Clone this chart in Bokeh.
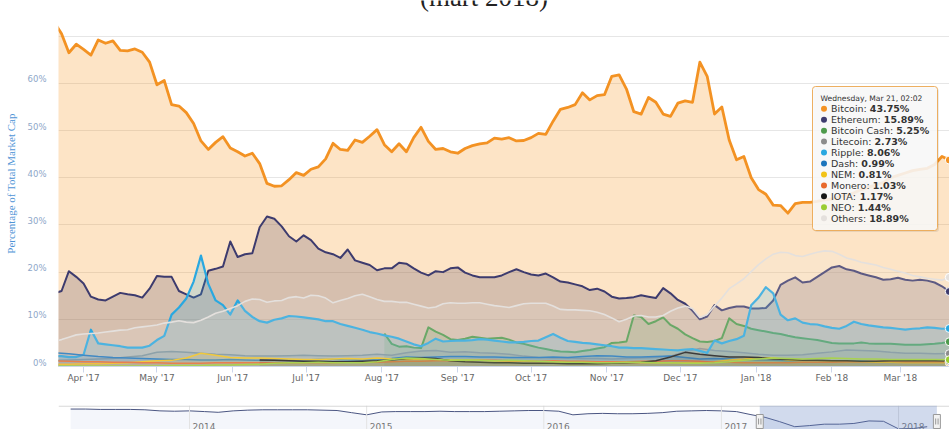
import pandas as pd
from bokeh.plotting import figure
from bokeh.layouts import column
from bokeh.models import (Range1d, MonthsTicker, DatetimeTickFormatter, FixedTicker, LinearAxis, Grid,
                          PrintfTickFormatter, Label, BoxAnnotation, Span, ColumnDataSource)
from bokeh.core.properties import value
from bokeh.embed import file_html
from bokeh.resources import INLINE

# ---------------- data ----------------
MAIN_START = "2017-03-20"   # 3-day sampling for the large series
MINOR_START = "2017-03-20"  # 6-day sampling for the small series

bitcoin = [73.0, 70.5, 66.5, 68.3, 67.2, 66.0, 69.2, 68.5, 69.0, 67.0,
           66.9, 67.3, 66.6, 64.5, 59.7, 60.6, 55.5, 55.2, 53.8, 51.5,
           47.8, 46.0, 47.5, 48.7, 46.3, 45.5, 44.6, 45.2, 43.0, 38.8,
           38.2, 38.3, 39.6, 41.1, 40.5, 41.8, 42.3, 44.0, 47.3, 46.0,
           45.8, 48.0, 47.5, 48.8, 50.2, 47.0, 45.5, 47.2, 45.5, 48.5,
           50.7, 47.7, 46.0, 46.2, 45.5, 45.2, 46.2, 46.8, 47.2, 47.4,
           48.4, 48.2, 48.5, 47.8, 47.9, 48.5, 49.4, 49.2, 52.0, 54.5,
           54.9, 55.5, 58.0, 56.5, 57.4, 57.6, 61.5, 61.8, 58.8, 54.0,
           53.5, 57.0, 56.0, 53.5, 53.0, 55.8, 56.3, 56.0, 64.5, 61.5,
           53.5, 55.0, 48.0, 43.8, 44.5, 40.0, 37.5, 36.5, 34.2, 34.1,
           32.5, 34.5, 34.8, 34.8, 35.0, 35.3, 35.5, 36.0, 36.3, 36.8,
           37.5, 38.0, 38.5, 39.0, 40.0, 40.5, 41.0, 41.5, 41.8, 42.0,
           42.8, 44.5, 43.75]

ethereum = [15.5, 16.0, 20.2, 19.0, 17.6, 14.8, 14.2, 14.0, 14.8, 15.6,
            15.3, 15.1, 14.6, 16.5, 19.2, 19.0, 19.0, 16.0, 15.3, 14.6,
            15.3, 20.3, 20.7, 21.2, 26.5, 23.2, 23.8, 24.0, 29.5, 31.8,
            31.3, 29.7, 27.6, 26.5, 27.8, 26.8, 25.0, 24.2, 23.8, 23.0,
            24.8, 22.5, 22.0, 21.5, 20.4, 20.8, 20.8, 22.0, 21.8, 20.8,
            19.9, 19.3, 20.2, 20.0, 20.8, 21.0, 19.9, 19.3, 18.9, 18.9,
            18.9, 19.3, 20.0, 20.6, 20.0, 19.5, 19.3, 19.7, 18.9, 18.0,
            17.8, 17.4, 17.0, 16.2, 16.5, 15.9, 14.8, 14.4, 14.5, 14.7,
            15.1, 14.8, 14.5, 16.6, 15.5, 14.1, 13.3, 11.8, 10.0, 10.6,
            13.0, 11.9, 12.4, 12.7, 12.7, 12.3, 12.3, 12.4, 14.0, 17.3,
            18.2, 18.9, 17.8, 18.0, 19.0, 20.0, 21.0, 21.3, 20.6, 20.3,
            19.7, 19.3, 18.9, 18.4, 18.5, 18.8, 18.4, 18.2, 18.4, 18.2,
            17.8, 17.0, 15.89]

ripple = [2.2, 2.2, 2.0, 2.0, 2.5, 7.8, 4.9, 4.7, 4.5, 4.3,
          4.0, 4.0, 4.0, 4.4, 5.6, 6.5, 11.0, 12.5, 14.4, 18.0,
          23.5, 17.5, 14.0, 13.0, 11.0, 14.0, 11.8, 10.5, 9.6, 9.3,
          9.9, 10.2, 10.7, 10.6, 10.4, 10.2, 10.0, 9.6, 9.6, 9.0,
          8.6, 8.2, 7.8, 7.3, 7.0, 6.6, 6.3, 5.9, 5.3, 4.7,
          4.3, 5.0, 5.9, 5.3, 5.4, 5.5, 5.5, 5.6, 5.8, 5.7,
          5.5, 5.3, 5.1, 5.1, 5.2, 5.4, 5.5, 6.2, 6.9, 6.1,
          5.4, 5.2, 5.0, 4.9, 4.7, 4.5, 4.3, 4.0, 4.0, 3.9,
          3.9, 3.8, 3.7, 3.6, 3.5, 3.4, 3.6, 3.7, 3.3, 2.9,
          5.5, 4.9, 5.4, 5.8, 6.5, 13.0, 14.6, 16.8, 15.5, 11.0,
          9.8, 10.2, 9.3, 9.0, 8.9, 8.5, 8.2, 8.0, 8.6, 9.5,
          9.0, 8.7, 8.5, 8.3, 8.2, 8.0, 7.8, 8.0, 8.1, 8.3,
          8.2, 8.0, 8.06]

others = [5.3, 5.7, 6.2, 6.7, 6.9, 7.0, 7.1, 7.3, 7.5, 7.7,
          7.8, 8.2, 8.4, 8.6, 8.8, 9.2, 9.4, 9.7, 9.4, 9.3,
          9.8, 10.5, 11.3, 11.7, 12.3, 12.9, 13.8, 14.3, 14.2, 13.6,
          13.9, 14.0, 14.6, 14.8, 14.5, 15.1, 15.0, 14.5, 13.5, 14.0,
          14.4, 15.0, 15.3, 14.8, 14.2, 13.8, 13.8, 13.6, 13.6, 13.2,
          12.8, 12.4, 12.6, 13.3, 13.5, 13.4, 13.4, 13.5, 13.5, 13.2,
          12.9, 12.7, 12.5, 12.9, 13.3, 13.4, 13.4, 13.4, 12.8, 12.1,
          12.0, 12.0, 11.9, 11.8, 11.5, 11.0, 10.3, 9.5, 10.0, 10.7,
          10.8, 10.5, 10.5, 10.8, 11.7, 12.4, 12.8, 12.3, 10.4, 11.0,
          12.8, 14.5, 16.5, 17.5, 18.6, 20.1, 21.6, 22.8, 23.8, 24.2,
          24.1, 23.5, 23.3, 23.8, 24.2, 24.5, 24.4, 23.8, 23.0, 22.6,
          22.1, 21.8, 21.5, 21.0, 20.6, 20.2, 19.8, 19.3, 19.0, 18.7,
          18.5, 18.3, 18.89]

bitcoin_cash = [None] * 45 + [
          7.0, 4.8, 4.2, 4.3, 4.0,
          3.9, 8.3, 7.4, 6.7, 5.8, 5.6, 5.9, 6.3, 6.1, 5.9,
          6.0, 6.1, 5.7, 5.1, 4.8, 4.4, 4.0, 3.7, 3.4, 3.2,
          3.1, 3.0, 3.3, 3.5, 3.8, 4.1, 5.0, 5.1, 5.3, 10.8,
          10.5, 9.0, 9.6, 10.4, 8.8, 8.0, 6.8, 6.0, 5.3, 5.2,
          5.4, 6.0, 10.2, 9.0, 8.6, 8.0, 7.7, 7.4, 7.1, 6.9,
          6.5, 6.2, 6.0, 5.8, 5.6, 5.3, 5.0, 4.9, 4.9, 4.9,
          5.1, 4.9, 4.8, 4.8, 4.8, 4.7, 4.6, 4.6, 4.6, 4.7,
          4.8, 5.0, 5.25]

litecoin = [1.3, 1.4, 1.5, 1.6, 1.7, 2.0, 2.3, 3.0, 3.2, 3.0,
            2.8, 2.6, 2.5, 2.3, 2.2, 2.2, 2.3, 2.4, 2.3, 2.2,
            2.3, 2.4, 2.6, 2.4, 2.9, 3.3, 3.4, 3.0, 3.1, 2.9,
            2.8, 2.6, 2.2, 1.9, 1.8, 1.8, 1.7, 1.7, 1.6, 1.7,
            1.8, 1.9, 2.2, 3.2, 3.8, 3.4, 3.2, 2.9, 2.6, 2.4,
            2.4, 2.5, 2.8, 3.1, 3.5, 3.4, 3.3, 3.0, 2.8, 2.8,
            2.7, 2.73]

dash = [2.9, 2.7, 2.4, 2.1, 1.9, 1.8, 1.7, 1.6, 1.5, 1.5,
        1.4, 1.4, 1.5, 1.4, 1.3, 1.3, 1.3, 1.4, 1.5, 1.5,
        1.4, 1.4, 1.5, 1.7, 2.0, 1.9, 2.0, 2.1, 2.1, 2.0,
        2.0, 1.9, 1.9, 1.9, 2.0, 1.9, 2.1, 2.3, 2.2, 2.0,
        2.0, 2.1, 2.2, 1.9, 1.6, 1.7, 1.6, 1.5, 1.4, 1.3,
        1.2, 1.2, 1.1, 1.1, 1.1, 1.1, 1.0, 1.0, 1.0, 1.0,
        1.0, 0.99]

nem = [0.5, 0.5, 0.6, 0.6, 0.7, 0.8, 1.0, 1.2, 1.3, 1.8,
       2.8, 2.4, 1.9, 1.8, 1.8, 1.7, 1.6, 1.5, 1.5, 1.6,
       1.7, 1.6, 1.8, 1.6, 1.5, 1.5, 1.4, 1.4, 1.3, 1.3,
       1.2, 1.1, 1.1, 1.0, 1.0, 1.0, 0.9, 0.8, 0.8, 0.8,
       0.8, 0.8, 0.8, 0.8, 0.9, 1.0, 1.4, 1.6, 1.9, 1.8,
       1.4, 1.2, 1.2, 1.1, 1.0, 1.0, 0.9, 0.9, 0.8, 0.8,
       0.8, 0.81]

monero = [1.2, 1.1, 1.0, 1.0, 0.9, 0.9, 0.8, 0.8, 0.7, 0.7,
          0.7, 0.8, 0.8, 0.8, 0.8, 0.8, 0.8, 0.8, 0.8, 0.8,
          0.9, 0.9, 0.9, 1.0, 1.1, 1.1, 1.2, 1.2, 1.2, 1.3,
          1.3, 1.2, 1.2, 1.1, 1.2, 1.1, 1.1, 1.0, 1.0, 1.0,
          1.1, 1.1, 1.2, 1.2, 1.1, 0.9, 0.9, 0.8, 0.8, 0.8,
          0.8, 0.9, 0.9, 0.9, 1.0, 1.0, 1.1, 1.1, 1.0, 1.0,
          1.0, 1.03]

iota = [None] * 14 + [
        1.4, 1.3, 1.2, 1.1, 1.1, 1.0,
        1.0, 1.1, 1.2, 1.4, 1.7, 1.8, 1.7, 1.2, 1.0, 0.9,
        0.8, 0.8, 0.7, 0.7, 0.7, 0.6, 0.6, 0.6, 0.7, 0.8,
        0.9, 1.2, 2.0, 3.0, 2.6, 2.3, 2.0, 2.0, 1.9, 1.6,
        1.5, 1.3, 1.3, 1.2, 1.2, 1.1, 1.1, 1.2, 1.2, 1.2,
        1.2, 1.17]

neo = [0.1, 0.1, 0.1, 0.1, 0.1, 0.1, 0.1, 0.1, 0.2, 0.2,
       0.2, 0.3, 0.3, 0.4, 0.5, 0.7, 0.8, 0.8, 0.9, 0.8,
       0.8, 0.8, 1.0, 1.5, 1.8, 1.7, 1.5, 1.3, 1.4, 1.3,
       1.2, 1.3, 1.2, 1.1, 1.0, 0.9, 0.9, 0.8, 0.8, 0.9,
       0.9, 0.8, 0.8, 0.7, 0.7, 0.8, 1.0, 1.3, 1.6, 1.8,
       1.7, 1.6, 1.7, 1.8, 1.7, 1.6, 1.6, 1.5, 1.5, 1.5,
       1.5, 1.44]

# navigator: monthly Bitcoin dominance, May 2013 .. Mar 2018
nav_start = "2013-05-01"
nav_btc = [90, 90, 89, 89, 89, 88, 85, 84,
           85, 83, 81, 85, 87, 88, 88, 88, 88, 87, 86, 80,
           74, 82, 83, 83, 83, 84, 83, 83, 83, 84, 85, 86,
           86, 84, 74, 77, 78, 77, 77, 78, 80, 84, 85, 86,
           85, 83, 75, 67, 55, 41, 44, 48, 48, 50, 57, 56,
           35, 36, 41]
nav_years = [2014, 2015, 2016, 2017, 2018]

y_label_ticks = [0, 10, 20, 30, 40, 50, 60]
y_grid_ticks = [0, 10, 20, 30, 40, 50, 60, 70]

tooltip_time = "2018-03-21 02:02"

assert len(bitcoin) == len(ethereum) == len(ripple) == len(others) == len(bitcoin_cash) == 123
assert len(litecoin) == len(dash) == len(nem) == len(monero) == len(iota) == len(neo) == 62

main_dates = pd.date_range(MAIN_START, periods=len(bitcoin), freq="3D")
minor_dates = pd.date_range(MINOR_START, periods=len(litecoin), freq="6D")
nav_dates = pd.date_range(nav_start, periods=len(nav_btc), freq="MS")

# name, dates, values, line colour, fill colour, line width, fill alpha
series = [
    ("Bitcoin", main_dates, bitcoin, "#f39223", "#f7931a", 2.8, 0.25),
    ("Ethereum", main_dates, ethereum, "#3d3b6e", "#5a4c66", 2.0, 0.24),
    ("Bitcoin Cash", main_dates, bitcoin_cash, "#4e9a4c", "#4e9a4c", 2.0, 0.18),
    ("Litecoin", minor_dates, litecoin, "#8c8c8c", "#8c8c8c", 1.5, 0.18),
    ("Ripple", main_dates, ripple, "#29a8e0", "#29a8e0", 2.2, 0.2),
    ("Dash", minor_dates, dash, "#1c75bc", "#1c75bc", 1.5, 0.15),
    ("NEM", minor_dates, nem, "#f2c318", "#f2c318", 1.5, 0.15),
    ("Monero", minor_dates, monero, "#e8692c", "#e8692c", 1.5, 0.15),
    ("IOTA", minor_dates, iota, "#151515", "#151515", 1.5, 0.12),
    ("NEO", minor_dates, neo, "#9acd32", "#9acd32", 1.5, 0.15),
    ("Others", main_dates, others, "#e4e0dd", "#ece8e4", 1.6, 0.18),
]

# ---------------- geometry ----------------
W, H_MAIN, H_NAV = 949, 400, 29
FL, FR, FT, FB = 58, 949, 0, 366
PX_PER_PCT = 352 / 74.6
X0 = pd.Timestamp("2017-03-21 18:00")
X1 = pd.Timestamp("2018-03-21 02:02")
Y_END = (FB - FT) / PX_PER_PCT
LABEL_SHIFT = 4 / PX_PER_PCT   # tick labels sit 4px above their grid lines


def ms(ts):
    return pd.Timestamp(ts).value / 1e6


def px_x(px):
    return ms(X0 + (px - FL) / (FR - FL) * (X1 - X0))


def px_y(py):
    return (FB - py) / PX_PER_PCT


p = figure(width=W, height=H_MAIN, x_axis_type="datetime", y_axis_type=None,
           x_range=Range1d(ms(X0), ms(X1)), y_range=Range1d(0, Y_END),
           output_backend="svg", toolbar_location=None,
           min_border_left=FL, min_border_right=0, min_border_top=FT,
           min_border_bottom=H_MAIN - FB)
p.outline_line_color = None
p.background_fill_color = "white"
p.border_fill_color = "white"
p.extra_y_ranges = {"lab": Range1d(-LABEL_SHIFT, Y_END - LABEL_SHIFT)}

p.add_layout(Grid(dimension=1, ticker=FixedTicker(ticks=y_grid_ticks), grid_line_color="#e6e6e6"))

for name, d, v, lc, fc, lw, fa in series:
    df = pd.DataFrame({"x": d, "y": pd.Series(v, dtype="float")}).dropna()
    src = ColumnDataSource(df)
    p.varea(x="x", y1=0, y2="y", source=src, fill_color=fc, fill_alpha=fa)
    p.line(x="x", y="y", source=src, line_color=lc, line_width=lw, line_join="round")

# hover markers at the last point
last_x = [ms(s[1][-1]) for s in series]
last_y = [s[2][-1] for s in series]
p.scatter(x=last_x, y=last_y, size=8, fill_color=[s[3] for s in series],
          line_color="white", line_width=1)

# axes
p.xaxis.ticker = MonthsTicker(months=list(range(12)))
p.xaxis.formatter = DatetimeTickFormatter(months="%b '%y", days="%b '%y")
p.xaxis.major_label_text_font = "DejaVu Sans"
p.xaxis.major_label_text_font_size = "9px"
p.xaxis.major_label_text_color = "#666666"
p.xaxis.axis_line_color = "#ccd6eb"
p.xaxis.major_tick_line_color = "#ccd6eb"
p.xaxis.major_tick_out = 6
p.xaxis.major_tick_in = 0
p.xaxis.minor_tick_line_color = None
p.xaxis.major_label_standoff = 0
p.xgrid.visible = False

yax = LinearAxis(y_range_name="lab", ticker=FixedTicker(ticks=y_label_ticks),
                 formatter=PrintfTickFormatter(format="%d%%"))
yax.major_label_text_font = "DejaVu Sans"
yax.major_label_text_font_size = "8.5px"
yax.major_label_text_color = "#8ea7c9"
yax.axis_line_color = None
yax.major_tick_line_color = None
yax.minor_tick_line_color = None
yax.major_tick_out = 0
yax.major_tick_in = 0
yax.major_label_standoff = 12
yax.axis_label = "Percentage of Total Market Cap"
yax.axis_label_text_font = "Liberation Serif"
yax.axis_label_text_font_size = "11px"
yax.axis_label_text_font_style = "normal"
yax.axis_label_text_color = "#4f94d6"
yax.axis_label_standoff = 8
p.add_layout(yax, "left")

# title (cut by top edge, as in the source)
p.add_layout(Label(x=px_x(483.5), y=px_y(-4.0), text="(mart 2018)",
                   text_font="Liberation Serif", text_font_size="27px",
                   text_align="center", text_baseline="alphabetic",
                   text_color="#222222"))

# tooltip
TL, TR, TT, TB = 812, 937, 86, 230
p.add_layout(BoxAnnotation(left=px_x(TL + 1.5), right=px_x(TR + 1.5), top=px_y(TT + 1.5),
                           bottom=px_y(TB + 1.5), fill_color="#000000", fill_alpha=0.08,
                           line_color=None, border_radius=3))
p.add_layout(BoxAnnotation(left=px_x(TL), right=px_x(TR), top=px_y(TT), bottom=px_y(TB),
                           fill_color="#f9f9f9", fill_alpha=0.88, line_color="#eba650",
                           line_alpha=0.9, line_width=1, border_radius=3))

hdr = pd.Timestamp(tooltip_time).strftime("%A, %b %d, %H:%M")
r = p.text(x=[px_x(820)], y=[px_y(97.5)], text=[hdr], text_font=value("DejaVu Sans"),
           text_font_size="7.6px", text_color="#333333", text_baseline="middle")
r.level = "overlay"

CW = {' ': .318, ':': .337, 'A': .684, 'B': .686, 'C': .698, 'D': .770, 'E': .632,
      'I': .295, 'L': .557, 'M': .863, 'N': .748, 'O': .787, 'R': .695, 'T': .611,
      'a': .613, 'c': .550, 'e': .615, 'h': .634, 'i': .278, 'l': .278, 'm': .974,
      'n': .634, 'o': .612, 'p': .635, 'r': .411, 's': .521, 't': .392, 'u': .634, 'd': .635}
FS = 9.5
names, vals, ys, xn, xv, cols = [], [], [], [], [], []
for i, s in enumerate(series):
    name, v = s[0], s[2]
    row_y = 108.3 + i * 10.94
    label = name + ": "
    wpx = sum(CW.get(ch, 0.6) for ch in label) * FS
    names.append(label)
    vals.append("%.2f%%" % v[-1])
    ys.append(px_y(row_y))
    xn.append(px_x(830.5))
    xv.append(px_x(830.5 + wpx))
    cols.append(s[3])
r = p.scatter(x=[px_x(823.5)] * len(ys), y=ys, size=6, fill_color=cols, line_color=None)
r.level = "overlay"
r = p.text(x=xn, y=ys, text=names, text_font=value("DejaVu Sans"), text_font_size="%.1fpx" % FS,
           text_color="#333333", text_baseline="middle")
r.level = "overlay"
r = p.text(x=xv, y=ys, text=vals, text_font=value("DejaVu Sans"), text_font_size="%.1fpx" % FS,
           text_font_style="bold", text_color="#333333", text_baseline="middle")
r.level = "overlay"

# ---------------- navigator ----------------
NAV_X0 = pd.Timestamp("2013-04-06")
NAV_X1 = pd.Timestamp("2018-04-16")
NAV_Y0, NAV_Y1 = 33.2, 99.9
nav = figure(width=W, height=H_NAV, x_range=Range1d(ms(NAV_X0), ms(NAV_X1)),
             y_range=Range1d(NAV_Y0, NAV_Y1), x_axis_type=None, y_axis_type=None,
             output_backend="svg", toolbar_location=None,
             min_border_left=FL, min_border_right=0, min_border_top=5, min_border_bottom=0)
nav.outline_line_color = None
nav.grid.visible = False
nav.background_fill_color = "white"
nav.border_fill_color = "white"

for yr in nav_years:
    nav.add_layout(Span(location=ms(pd.Timestamp(year=yr, month=1, day=1)), dimension="height",
                        line_color="#e3e3e3", line_width=1))
nav_src = ColumnDataSource(pd.DataFrame({"x": nav_dates, "y": nav_btc}))
nav.varea(x="x", y1=NAV_Y0, y2="y", source=nav_src, fill_color="#6685c2", fill_alpha=0.07)
nav.line(x="x", y="y", source=nav_src, line_color="#4b5682", line_width=1)
nav.add_layout(Span(location=NAV_Y1 - 0.6 / 0.36, dimension="width", line_color="#cfcfcf", line_width=1))

sel_l, sel_r = ms(main_dates[0]) + 86400000, ms(main_dates[-1])
nav.add_layout(BoxAnnotation(left=sel_l, right=sel_r, fill_color="#6685c2", fill_alpha=0.3,
                             line_color=None))
nav.text(x=[ms(pd.Timestamp(year=yr, month=1, day=1)) for yr in nav_years],
         y=[NAV_Y1 - 17.5 / 0.36] * len(nav_years), text=[str(yr) for yr in nav_years],
         x_offset=3, text_baseline="top", text_font=value("DejaVu Sans"),
         text_font_size="9px", text_color="#777777")
hy = NAV_Y1 - 16 / 0.36
h = nav.rect(x=[sel_l, sel_r], y=[hy, hy], width=7, height=14, width_units="screen",
             height_units="screen", fill_color="#f2f2f2", line_color="#999999")
h.level = "overlay"
dpx = (ms(NAV_X1) - ms(NAV_X0)) / (FR - FL)
h2 = nav.scatter(x=[sel_l - 1.2 * dpx, sel_l + 1.2 * dpx, sel_r - 1.2 * dpx, sel_r + 1.2 * dpx],
                 y=[hy] * 4, marker="dash", angle=1.5708, size=6, line_color="#999999")
h2.level = "overlay"

layout = column(p, nav, spacing=0)
open("out.html", "w").write(file_html(layout, INLINE))
